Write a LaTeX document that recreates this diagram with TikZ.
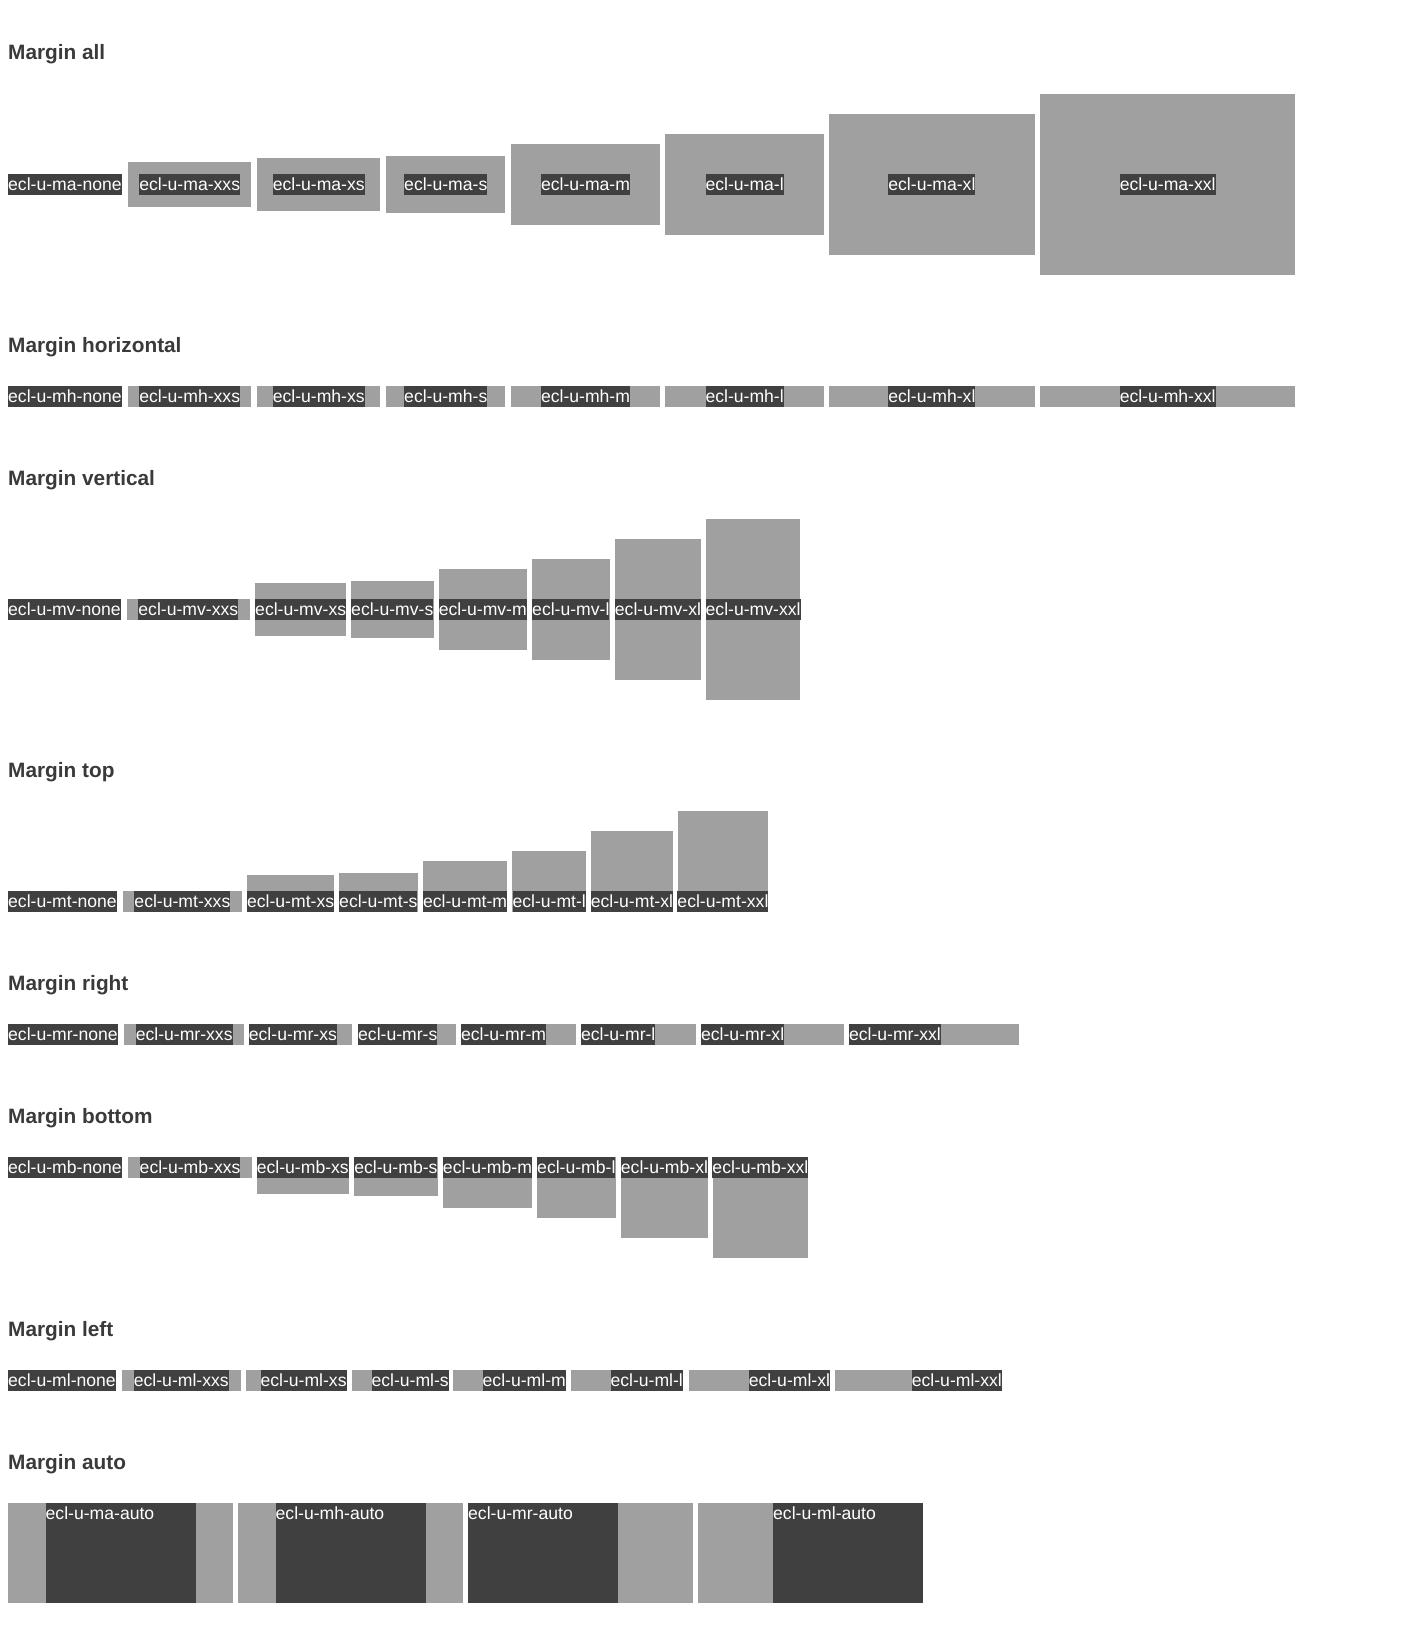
\documentclass[tikz,border=0pt]{standalone}
\usepackage{fontspec}
\setmainfont{Liberation Sans}
\usepackage{xcolor}
\usetikzlibrary{positioning}
\definecolor{xgray}{RGB}{160,160,160}
\definecolor{xdark}{RGB}{64,64,64}
\definecolor{xhead}{RGB}{58,58,58}

\begin{document}
\begin{tikzpicture}[x=1pt, y=-1pt,
  heading/.style={anchor=base west, inner sep=0pt, text=xhead,
                  font=\fontsize{20.8}{24}\selectfont\bfseries},
  lbl/.style={fill=xdark, text=white, inner xsep=0pt, inner ysep=0pt,
              text height=16.45pt, text depth=4.25pt,
              font=\fontsize{17.6}{20}\selectfont},
  pad/.style={fill=xgray, inner sep=0pt, minimum height=20.7pt},
  autobox/.style={fill=xdark, inner sep=0pt, minimum width=150pt, minimum height=100pt,
                  anchor=north west}
]
  \fill[white] (0,0) rectangle (1400,1629);
  \useasboundingbox (0,0) rectangle (1400,1629);

  % Margin all
  \node[heading] (h-all) at (8,60) {Margin all};
  \node[lbl, anchor=west] (ma-none) at (8,184.35) {ecl-u-ma-none};
  \node[pad, minimum width=123.2pt, minimum height=44.7pt]  (ma-xxs) at (189.7,184.35) {};
  \node[pad, minimum width=123.3pt, minimum height=52.7pt]  (ma-xs)  at (318.75,184.35) {};
  \node[pad, minimum width=119.2pt, minimum height=56.7pt]  (ma-s)   at (445.8,184.35) {};
  \node[pad, minimum width=148.6pt, minimum height=80.7pt]  (ma-m)   at (585.5,184.35) {};
  \node[pad, minimum width=158.9pt, minimum height=100.7pt] (ma-l)   at (744.65,184.35) {};
  \node[pad, minimum width=205.8pt, minimum height=140.7pt] (ma-xl)  at (931.9,184.35) {};
  \node[pad, minimum width=254.9pt, minimum height=180.7pt] (ma-xxl) at (1167.65,184.35) {};
  \node[lbl] (ma-xxs-t) at (ma-xxs) {ecl-u-ma-xxs};
  \node[lbl] (ma-xs-t)  at (ma-xs)  {ecl-u-ma-xs};
  \node[lbl] (ma-s-t)   at (ma-s)   {ecl-u-ma-s};
  \node[lbl] (ma-m-t)   at (ma-m)   {ecl-u-ma-m};
  \node[lbl] (ma-l-t)   at (ma-l)   {ecl-u-ma-l};
  \node[lbl] (ma-xl-t)  at (ma-xl)  {ecl-u-ma-xl};
  \node[lbl] (ma-xxl-t) at (ma-xxl) {ecl-u-ma-xxl};

  % Margin horizontal
  \node[heading] (h-hor) at (8,352) {Margin horizontal};
  \node[lbl, anchor=west] (mh-none) at (8,396.35) {ecl-u-mh-none};
  \node[pad, minimum width=123.2pt] (mh-xxs) at (189.7,396.35) {};
  \node[pad, minimum width=123.3pt] (mh-xs)  at (318.75,396.35) {};
  \node[pad, minimum width=119.2pt] (mh-s)   at (445.8,396.35) {};
  \node[pad, minimum width=148.6pt] (mh-m)   at (585.5,396.35) {};
  \node[pad, minimum width=158.9pt] (mh-l)   at (744.65,396.35) {};
  \node[pad, minimum width=205.8pt] (mh-xl)  at (931.9,396.35) {};
  \node[pad, minimum width=254.9pt] (mh-xxl) at (1167.65,396.35) {};
  \node[lbl] (mh-xxs-t) at (mh-xxs) {ecl-u-mh-xxs};
  \node[lbl] (mh-xs-t)  at (mh-xs)  {ecl-u-mh-xs};
  \node[lbl] (mh-s-t)   at (mh-s)   {ecl-u-mh-s};
  \node[lbl] (mh-m-t)   at (mh-m)   {ecl-u-mh-m};
  \node[lbl] (mh-l-t)   at (mh-l)   {ecl-u-mh-l};
  \node[lbl] (mh-xl-t)  at (mh-xl)  {ecl-u-mh-xl};
  \node[lbl] (mh-xxl-t) at (mh-xxl) {ecl-u-mh-xxl};

  % Margin vertical
  \node[heading] (h-ver) at (8,485) {Margin vertical};
  \node[lbl, anchor=west] (mv-none) at (8,609.35) {ecl-u-mv-none};
  \node[pad, minimum width=122.4pt] (mv-xxs) at (188.3,609.35) {};
  \node[pad, minimum width=91pt,   minimum height=52.7pt]  (mv-xs)  at (300.7,609.35) {};
  \node[pad, minimum width=82.6pt, minimum height=56.7pt]  (mv-s)   at (392.3,609.35) {};
  \node[pad, minimum width=87.9pt, minimum height=80.7pt]  (mv-m)   at (482.75,609.35) {};
  \node[pad, minimum width=77.9pt, minimum height=100.7pt] (mv-l)   at (570.85,609.35) {};
  \node[pad, minimum width=85.7pt, minimum height=140.7pt] (mv-xl)  at (657.95,609.35) {};
  \node[pad, minimum width=94.2pt, minimum height=180.7pt] (mv-xxl) at (753.1,609.35) {};
  \node[lbl] (mv-xxs-t) at (mv-xxs) {ecl-u-mv-xxs};
  \node[lbl] (mv-xs-t)  at (mv-xs)  {ecl-u-mv-xs};
  \node[lbl] (mv-s-t)   at (mv-s)   {ecl-u-mv-s};
  \node[lbl] (mv-m-t)   at (mv-m)   {ecl-u-mv-m};
  \node[lbl] (mv-l-t)   at (mv-l)   {ecl-u-mv-l};
  \node[lbl] (mv-xl-t)  at (mv-xl)  {ecl-u-mv-xl};
  \node[lbl] (mv-xxl-t) at (mv-xxl) {ecl-u-mv-xxl};

  % Margin top
  \node[heading] (h-top) at (8,777.5) {Margin top};
  \node[lbl, anchor=south west] (mt-none) at (8,912.2) {ecl-u-mt-none};
  \node[pad, anchor=south, minimum width=118.8pt] (mt-xxs) at (182.4,912.2) {};
  \node[pad, anchor=south, minimum width=87.2pt, minimum height=36.7pt]  (mt-xs)  at (290.6,912.2) {};
  \node[pad, anchor=south, minimum width=79.1pt, minimum height=38.7pt]  (mt-s)   at (378.35,912.2) {};
  \node[pad, anchor=south, minimum width=84.1pt, minimum height=50.7pt]  (mt-m)   at (465.05,912.2) {};
  \node[pad, anchor=south, minimum width=74pt,   minimum height=60.7pt]  (mt-l)   at (549.2,912.2) {};
  \node[pad, anchor=south, minimum width=82.2pt, minimum height=80.7pt]  (mt-xl)  at (631.9,912.2) {};
  \node[pad, anchor=south, minimum width=89.9pt, minimum height=100.7pt] (mt-xxl) at (722.95,912.2) {};
  \node[lbl, anchor=south] (mt-xxs-t) at (mt-xxs.south) {ecl-u-mt-xxs};
  \node[lbl, anchor=south] (mt-xs-t)  at (mt-xs.south)  {ecl-u-mt-xs};
  \node[lbl, anchor=south] (mt-s-t)   at (mt-s.south)   {ecl-u-mt-s};
  \node[lbl, anchor=south] (mt-m-t)   at (mt-m.south)   {ecl-u-mt-m};
  \node[lbl, anchor=south] (mt-l-t)   at (mt-l.south)   {ecl-u-mt-l};
  \node[lbl, anchor=south] (mt-xl-t)  at (mt-xl.south)  {ecl-u-mt-xl};
  \node[lbl, anchor=south] (mt-xxl-t) at (mt-xxl.south) {ecl-u-mt-xxl};

  % Margin right
  \node[heading] (h-right) at (8,990) {Margin right};
  \node[lbl, anchor=west] (mr-none) at (8,1034.35) {ecl-u-mr-none};
  \node[pad, anchor=west, minimum width=120pt]   (mr-xxs) at (124,1034.35) {};
  \node[pad, anchor=west, minimum width=103.4pt] (mr-xs)  at (248.7,1034.35) {};
  \node[pad, anchor=west, minimum width=97.6pt]  (mr-s)   at (358,1034.35) {};
  \node[pad, anchor=west, minimum width=114.7pt] (mr-m)   at (460.9,1034.35) {};
  \node[pad, anchor=west, minimum width=114.7pt] (mr-l)   at (580.9,1034.35) {};
  \node[pad, anchor=west, minimum width=142.6pt] (mr-xl)  at (700.9,1034.35) {};
  \node[pad, anchor=west, minimum width=169.8pt] (mr-xxl) at (848.8,1034.35) {};
  \node[lbl] (mr-xxs-t) at (mr-xxs) {ecl-u-mr-xxs};
  \node[lbl, anchor=west] (mr-xs-t)  at (mr-xs.west)  {ecl-u-mr-xs};
  \node[lbl, anchor=west] (mr-s-t)   at (mr-s.west)   {ecl-u-mr-s};
  \node[lbl, anchor=west] (mr-m-t)   at (mr-m.west)   {ecl-u-mr-m};
  \node[lbl, anchor=west] (mr-l-t)   at (mr-l.west)   {ecl-u-mr-l};
  \node[lbl, anchor=west] (mr-xl-t)  at (mr-xl.west)  {ecl-u-mr-xl};
  \node[lbl, anchor=west] (mr-xxl-t) at (mr-xxl.west) {ecl-u-mr-xxl};

  % Margin bottom
  \node[heading] (h-bottom) at (8,1123) {Margin bottom};
  \node[lbl, anchor=north west] (mb-none) at (8,1157) {ecl-u-mb-none};
  \node[pad, anchor=north, minimum width=124pt] (mb-xxs) at (190.1,1157) {};
  \node[pad, anchor=north, minimum width=92pt,   minimum height=36.7pt]  (mb-xs)  at (302.8,1157) {};
  \node[pad, anchor=north, minimum width=83.8pt, minimum height=38.7pt]  (mb-s)   at (395.9,1157) {};
  \node[pad, anchor=north, minimum width=88.9pt, minimum height=50.7pt]  (mb-m)   at (487.45,1157) {};
  \node[pad, anchor=north, minimum width=78.5pt, minimum height=60.7pt]  (mb-l)   at (576.35,1157) {};
  \node[pad, anchor=north, minimum width=87.3pt, minimum height=80.7pt]  (mb-xl)  at (664.45,1157) {};
  \node[pad, anchor=north, minimum width=95.2pt, minimum height=100.7pt] (mb-xxl) at (760.4,1157) {};
  \node[lbl, anchor=north] (mb-xxs-t) at (mb-xxs.north) {ecl-u-mb-xxs};
  \node[lbl, anchor=north] (mb-xs-t)  at (mb-xs.north)  {ecl-u-mb-xs};
  \node[lbl, anchor=north] (mb-s-t)   at (mb-s.north)   {ecl-u-mb-s};
  \node[lbl, anchor=north] (mb-m-t)   at (mb-m.north)   {ecl-u-mb-m};
  \node[lbl, anchor=north] (mb-l-t)   at (mb-l.north)   {ecl-u-mb-l};
  \node[lbl, anchor=north] (mb-xl-t)  at (mb-xl.north)  {ecl-u-mb-xl};
  \node[lbl, anchor=north] (mb-xxl-t) at (mb-xxl.north) {ecl-u-mb-xxl};

  % Margin left
  \node[heading] (h-left) at (8,1336) {Margin left};
  \node[lbl, anchor=west] (ml-none) at (8,1380.35) {ecl-u-ml-none};
  \node[pad, anchor=east, minimum width=118.4pt] (ml-xxs) at (240.7,1380.35) {};
  \node[pad, anchor=east, minimum width=100.9pt] (ml-xs)  at (346.8,1380.35) {};
  \node[pad, anchor=east, minimum width=97pt]    (ml-s)   at (449,1380.35) {};
  \node[pad, anchor=east, minimum width=112.5pt] (ml-m)   at (566,1380.35) {};
  \node[pad, anchor=east, minimum width=111.9pt] (ml-l)   at (683.1,1380.35) {};
  \node[pad, anchor=east, minimum width=141.2pt] (ml-xl)  at (830.2,1380.35) {};
  \node[pad, anchor=east, minimum width=166.6pt] (ml-xxl) at (1002,1380.35) {};
  \node[lbl] (ml-xxs-t) at (ml-xxs) {ecl-u-ml-xxs};
  \node[lbl, anchor=east] (ml-xs-t)  at (ml-xs.east)  {ecl-u-ml-xs};
  \node[lbl, anchor=east] (ml-s-t)   at (ml-s.east)   {ecl-u-ml-s};
  \node[lbl, anchor=east] (ml-m-t)   at (ml-m.east)   {ecl-u-ml-m};
  \node[lbl, anchor=east] (ml-l-t)   at (ml-l.east)   {ecl-u-ml-l};
  \node[lbl, anchor=east] (ml-xl-t)  at (ml-xl.east)  {ecl-u-ml-xl};
  \node[lbl, anchor=east] (ml-xxl-t) at (ml-xxl.east) {ecl-u-ml-xxl};

  % Margin auto
  \node[heading] (h-auto) at (8,1469) {Margin auto};
  \node[pad, anchor=north west, minimum width=225pt, minimum height=100pt] (ma-auto) at (8,1503) {};
  \node[pad, anchor=north west, minimum width=225pt, minimum height=100pt] (mh-auto) at (238,1503) {};
  \node[pad, anchor=north west, minimum width=225pt, minimum height=100pt] (mr-auto) at (468,1503) {};
  \node[pad, anchor=north west, minimum width=225pt, minimum height=100pt] (ml-auto) at (698,1503) {};
  \node[autobox] (ma-auto-b) at (45.5,1503) {};
  \node[autobox] (mh-auto-b) at (275.5,1503) {};
  \node[autobox] (mr-auto-b) at (468,1503) {};
  \node[autobox] (ml-auto-b) at (773,1503) {};
  \node[lbl, fill=none, anchor=north west] (ma-auto-t) at (ma-auto-b.north west) {ecl-u-ma-auto};
  \node[lbl, fill=none, anchor=north west] (mh-auto-t) at (mh-auto-b.north west) {ecl-u-mh-auto};
  \node[lbl, fill=none, anchor=north west] (mr-auto-t) at (mr-auto-b.north west) {ecl-u-mr-auto};
  \node[lbl, fill=none, anchor=north west] (ml-auto-t) at (ml-auto-b.north west) {ecl-u-ml-auto};
\end{tikzpicture}
\end{document}
